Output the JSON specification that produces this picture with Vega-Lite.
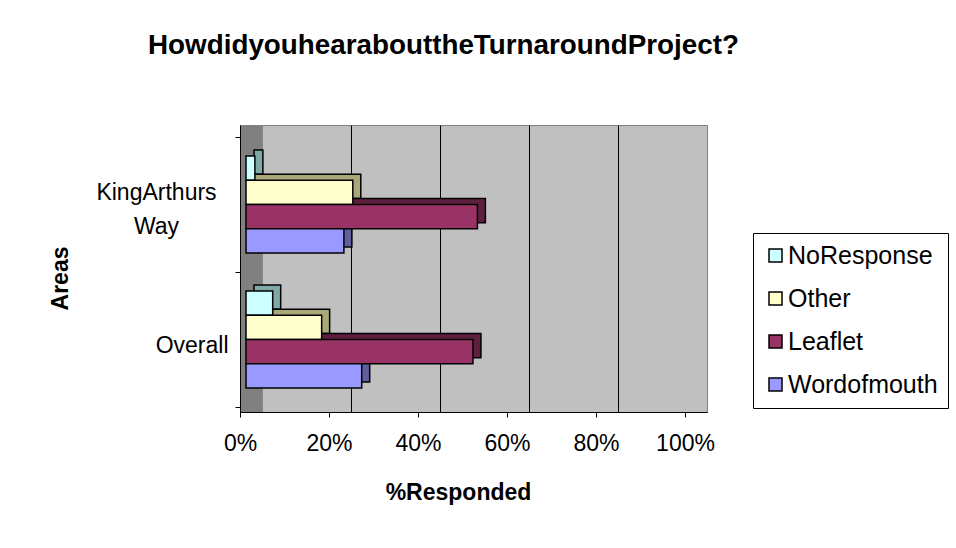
{
  "$schema": "https://vega.github.io/schema/vega-lite/v6.json",
  "autosize": {"type": "none"},
  "padding": {"left": 240, "top": 125, "right": 249, "bottom": 136},
  "width": 467,
  "height": 287,
  "background": "white",
  "title": {
    "text": "HowdidyouhearabouttheTurnaroundProject?",
    "font": "Liberation Sans",
    "fontSize": 27.8,
    "fontWeight": "bold",
    "color": "black",
    "anchor": "middle",
    "frame": "group",
    "dx": -30,
    "offset": 54
  },
  "data": {
    "values": [
      {"area": "KingArthurs Way", "series": "NoResponse", "value": 0.02},
      {"area": "KingArthurs Way", "series": "Other", "value": 0.24},
      {"area": "KingArthurs Way", "series": "Leaflet", "value": 0.52},
      {"area": "KingArthurs Way", "series": "Wordofmouth", "value": 0.22},
      {"area": "Overall", "series": "NoResponse", "value": 0.06},
      {"area": "Overall", "series": "Other", "value": 0.17},
      {"area": "Overall", "series": "Leaflet", "value": 0.51},
      {"area": "Overall", "series": "Wordofmouth", "value": 0.26}
    ]
  },
  "layer": [
    {
      "mark": {"type": "bar", "xOffset": -8, "stroke": "black", "strokeWidth": 1.5},
      "encoding": {
        "y": {
          "field": "area", "type": "nominal",
          "sort": ["KingArthurs Way", "Overall"],
          "scale": {"paddingInner": 0, "paddingOuter": 0.063, "align": 0.7},
          "axis": {
            "title": "Areas",
            "titleFont": "Liberation Sans",
            "titleFontSize": 23,
            "titleFontWeight": "bold",
            "titleColor": "black",
            "titleAngle": -90,
            "titleX": -180,
            "titleY": 153,
            "titleBaseline": "middle",
            "titleAlign": "center",
            "labelFont": "Liberation Sans",
            "labelFontSize": 23,
            "labelColor": "black",
            "labelExpr": "split(datum.label, ' ')",
            "labelLineHeight": 34,
            "labelAlign": {"condition": {"test": "datum.value == 'KingArthurs Way'", "value": "center"}, "value": "right"},
            "labelBaseline": "middle",
            "labelPadding": {"condition": {"test": "datum.value == 'KingArthurs Way'", "value": 79}, "value": 7},
            "labelOffset": {"condition": {"test": "datum.value == 'KingArthurs Way'", "value": -12}, "value": 6},
            "tickBand": "extent",
            "tickSize": 5,
            "tickColor": "black",
            "domainColor": "black",
            "domainWidth": 1,
            "grid": false
          }
        },
        "yOffset": {
          "field": "series", "type": "nominal",
          "sort": ["NoResponse", "Other", "Leaflet", "Wordofmouth"],
          "scale": {"paddingInner": 0, "paddingOuter": 0.784, "align": 0.342}
        },
        "x": {
          "field": "value", "type": "quantitative",
          "scale": {"domain": [-0.0494, 1.0], "nice": false, "zero": false},
          "axis": {
            "orient": "top",
            "values": [0.2, 0.4, 0.6, 0.8],
            "grid": true,
            "gridColor": "black",
            "gridWidth": 1,
            "labels": false,
            "ticks": false,
            "domain": false,
            "title": null
          }
        },
        "color": {
          "field": "series", "type": "nominal",
          "scale": {
            "domain": ["NoResponse", "Other", "Leaflet", "Wordofmouth"],
            "range": ["#7fa8a8", "#a8a878", "#5e1f3f", "#5f5f9c"]
          },
          "legend": null
        }
      }
    },
    {
      "mark": {"type": "bar", "xOffset": 6, "stroke": "black", "strokeWidth": 1.5},
      "encoding": {
        "y": {"field": "area", "type": "nominal", "sort": ["KingArthurs Way", "Overall"]},
        "yOffset": {
          "field": "series", "type": "nominal",
          "sort": ["NoResponse", "Other", "Leaflet", "Wordofmouth"],
          "scale": {"paddingInner": 0, "paddingOuter": 0.784, "align": 0.5}
        },
        "x": {
          "field": "value", "type": "quantitative",
          "scale": {"domain": [0, 1.0494], "nice": false},
          "axis": {
            "orient": "bottom",
            "values": [0, 0.2, 0.4, 0.6, 0.8, 1.0],
            "format": ".0%",
            "grid": false,
            "labelFont": "Liberation Sans",
            "labelFontSize": 23,
            "labelColor": "black",
            "labelPadding": 15,
            "labelFlush": false,
            "tickSize": 5,
            "tickColor": "black",
            "domainColor": "black",
            "title": "%Responded",
            "titleFont": "Liberation Sans",
            "titleFontSize": 23,
            "titleFontWeight": "bold",
            "titleColor": "black",
            "titleX": 218,
            "titleY": 80,
            "titleBaseline": "middle",
            "titleAlign": "center"
          }
        },
        "color": {
          "field": "series", "type": "nominal",
          "scale": {
            "domain": ["NoResponse", "Other", "Leaflet", "Wordofmouth"],
            "range": ["#ccffff", "#ffffcc", "#993366", "#9999ff"]
          },
          "legend": {
            "title": null,
            "orient": "none",
            "legendX": 513,
            "legendY": 108,
            "direction": "vertical",
            "strokeColor": "black",
            "fillColor": "white",
            "padding": 10,
            "labelFont": "Liberation Sans",
            "labelFontSize": 25,
            "labelColor": "black",
            "labelOffset": 0,
            "rowPadding": 17,
            "symbolType": "square",
            "symbolSize": 169,
            "symbolStrokeColor": "black",
            "symbolStrokeWidth": 1.5,
            "symbolOpacity": 1
          }
        }
      }
    }
  ],
  "resolve": {
    "scale": {"x": "independent", "yOffset": "independent", "color": "independent"},
    "axis": {"x": "independent"}
  },
  "config": {
    "view": {
      "stroke": "#808080",
      "strokeWidth": 1,
      "fill": {
        "gradient": "linear",
        "x1": 0, "y1": 0, "x2": 1, "y2": 0,
        "stops": [
          {"offset": 0, "color": "#808080"},
          {"offset": 0.047, "color": "#808080"},
          {"offset": 0.048, "color": "#c0c0c0"},
          {"offset": 1, "color": "#c0c0c0"}
        ]
      }
    },
    "font": "Liberation Sans"
  }
}
